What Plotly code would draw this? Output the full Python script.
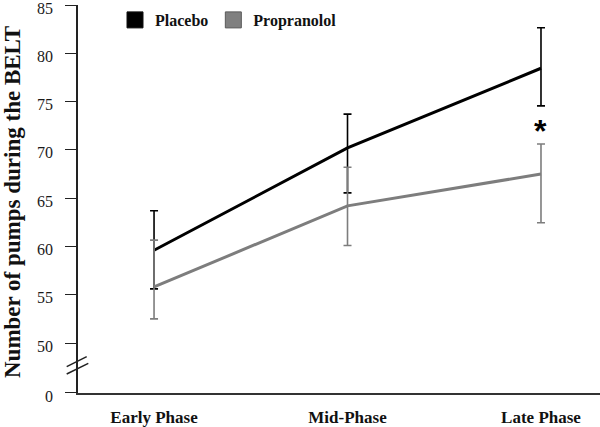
import plotly.graph_objects as go

# ---- data ----
phases = ["Early Phase", "Mid-Phase", "Late Phase"]
placebo_mean = [59.6, 70.2, 78.45]
placebo_err_plus = [4.1, 3.5, 4.2]
placebo_err_minus = [4.0, 4.65, 3.9]
propranolol_mean = [55.8, 64.2, 67.5]
propranolol_err_plus = [4.85, 4.0, 3.1]
propranolol_err_minus = [3.3, 4.1, 5.05]
upper_ticks = [50, 55, 60, 65, 70, 75, 80, 85]
lower_ticks = [0]
star_phase = "Late Phase"
star_value = 72.4
y_title = "Number of pumps during the BELT"

# ---- layout geometry ----
W, H = 600, 427
L, R, T, B = 78, 0, 5, 34
plot_w = W - L - R
plot_h = H - T - B


def px(x):
    return (x - L) / plot_w


def py(y):
    return (H - B - y) / plot_h


split_px = 368
units_per_px = 35 / 338
upper_bottom = 85 - (split_px - T) * units_per_px
lower_top = (H - B - split_px) * units_per_px
eps = 1e-3

serif = "Liberation Serif, Times New Roman, serif"
BLACK = "#000000"
GRAY = "#7d7d7d"
AX = "#222222"

fig = go.Figure()

fig.add_trace(go.Scatter(
    x=phases, y=placebo_mean, mode="lines", name="Placebo",
    line=dict(color=BLACK, width=3),
    error_y=dict(type="data", symmetric=False, array=placebo_err_plus,
                 arrayminus=placebo_err_minus, color=BLACK, thickness=1.6, width=4),
    showlegend=False, xaxis="x", yaxis="y"))

fig.add_trace(go.Scatter(
    x=phases, y=propranolol_mean, mode="lines", name="Propranolol",
    line=dict(color=GRAY, width=3),
    error_y=dict(type="data", symmetric=False, array=propranolol_err_plus,
                 arrayminus=propranolol_err_minus, color=GRAY, thickness=1.6, width=4),
    showlegend=False, xaxis="x", yaxis="y"))

# empty trace so the lower (broken) axis segment is drawn
fig.add_trace(go.Scatter(x=[None], y=[None], mode="markers", showlegend=False,
                         hoverinfo="skip", xaxis="x", yaxis="y2"))

# legend proxies (square swatches)
fig.add_trace(go.Scatter(x=[None], y=[None], mode="markers", name="Placebo",
                         marker=dict(symbol="square", size=16, color=BLACK,
                                     line=dict(color="#111", width=1)),
                         xaxis="x", yaxis="y"))
fig.add_trace(go.Scatter(x=[None], y=[None], mode="markers", name="Propranolol",
                         marker=dict(symbol="square", size=16, color="#808080",
                                     line=dict(color="#5a5a5a", width=1)),
                         xaxis="x", yaxis="y"))

axis_common = dict(showgrid=False, zeroline=False, showline=True, linecolor=AX,
                   linewidth=1.5, ticks="outside", ticklen=11, tickwidth=1.3,
                   tickcolor=AX, tickfont=dict(family=serif, size=16, color="#1a1a1a"),
                   ticklabelstandoff=9, ticklabelshift=3, automargin=False,
                   ticklabeloverflow="allow")

fig.update_layout(
    width=W, height=H,
    margin=dict(l=L, r=R, t=T, b=B, pad=0, autoexpand=False),
    paper_bgcolor="white", plot_bgcolor="white",
    xaxis=dict(type="category", range=[-0.393, 2.305], showgrid=False,
               zeroline=False, showline=True, linecolor="#333333", linewidth=1.8,
               ticks="", anchor="y2", ticklabelstandoff=8, automargin=False,
               ticklabeloverflow="allow",
               tickfont=dict(family=serif, size=17, color="#111111", weight="bold")),
    yaxis=dict(domain=[py(split_px), 1], range=[upper_bottom, 85 + eps],
               tickvals=upper_ticks, anchor="x", **axis_common),
    yaxis2=dict(domain=[0, py(split_px)], range=[-eps, lower_top],
                tickvals=lower_ticks, anchor="x", **axis_common),
    legend=dict(orientation="h", x=px(115), y=py(20), xanchor="left",
                yanchor="middle", bgcolor="rgba(0,0,0,0)",
                font=dict(family=serif, size=16, color="#111111", weight="bold")),
    showlegend=True,
)

# y-axis title
fig.add_annotation(text=y_title, xref="paper", yref="paper", x=px(12), y=py(202),
                   xanchor="center", yanchor="middle", textangle=-90, showarrow=False,
                   font=dict(family=serif, size=23, color="#111111", weight="bold"))

# significance star
fig.add_annotation(text="*", x=star_phase, y=star_value, xref="x", yref="y",
                   showarrow=False, yshift=-4,
                   font=dict(family="Liberation Sans, Arial, sans-serif", size=32,
                             color=BLACK, weight="bold"))

# axis break marks
for (x0, y0, x1, y1) in [(66.7, 366.7, 86.7, 356.7), (66.7, 374.0, 88.3, 363.3)]:
    fig.add_shape(type="line", xref="paper", yref="paper",
                  x0=px(x0), y0=py(y0), x1=px(x1), y1=py(y1),
                  line=dict(color=AX, width=1.5))

fig.write_html("out.html", config={"displayModeBar": False},
               post_script="document.body.style.margin='0';")
